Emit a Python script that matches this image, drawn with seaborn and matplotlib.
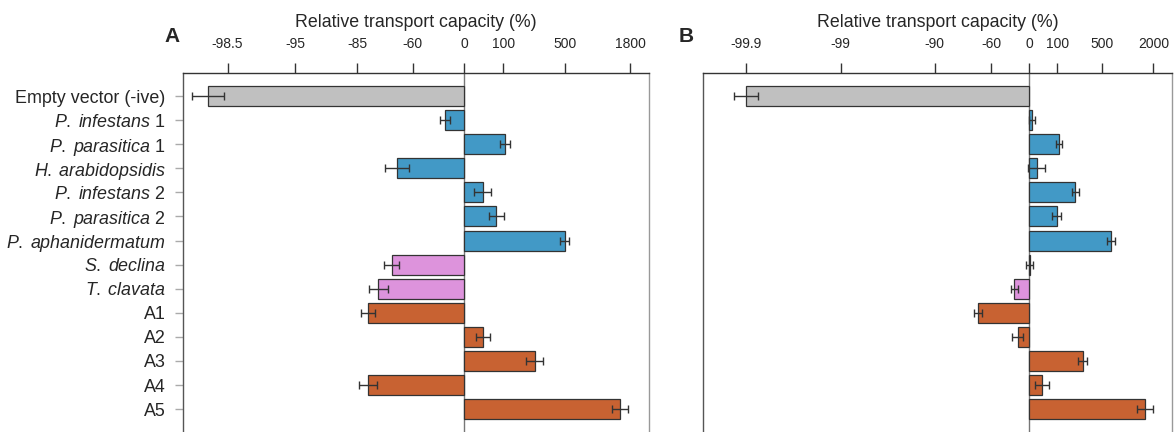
import numpy as np
import pandas as pd
import matplotlib
matplotlib.use("Agg")
import matplotlib.pyplot as plt
import seaborn as sns

# row labels (italic species names via mathtext)
labels = [
    "Empty vector (-ive)",
    r"$\mathit{P.\;infestans}$ 1",
    r"$\mathit{P.\;parasitica}$ 1",
    r"$\mathit{H.\;arabidopsidis}$",
    r"$\mathit{P.\;infestans}$ 2",
    r"$\mathit{P.\;parasitica}$ 2",
    r"$\mathit{P.\;aphanidermatum}$",
    r"$\mathit{S.\;declina}$",
    r"$\mathit{T.\;clavata}$",
    "A1", "A2", "A3", "A4", "A5",
]
groups = ["control"] + ["oomycete"] * 6 + ["other"] * 2 + ["A"] * 5

# log2 fold change relative to wild type (plotted scale), with error
log2_a = [-6.56, -0.49, 1.05, -1.72, 0.47, 0.82, 2.57, -1.86, -2.20, -2.47, 0.47, 1.80, -2.47, 3.98]
err_a = [0.41, 0.13, 0.13, 0.31, 0.21, 0.19, 0.12, 0.20, 0.25, 0.18, 0.18, 0.21, 0.23, 0.21]
log2_b = [-9.98, 0.12, 1.07, 0.27, 1.64, 0.98, 2.91, 0.03, -0.52, -1.80, -0.40, 1.90, 0.46, 4.10]
err_b = [0.43, 0.10, 0.10, 0.29, 0.12, 0.15, 0.14, 0.12, 0.12, 0.14, 0.19, 0.16, 0.25, 0.28]

# tick labels in percent
ticks_a = ["-98.5", "-95", "-85", "-60", "0", "100", "500", "1800"]
ticks_b = ["-99.9", "-99", "-90", "-60", "0", "100", "500", "2000"]

palette = {"control": "#c0c0c0", "oomycete": "#4299c6", "other": "#dd93dc", "A": "#c86232"}

sns.set_style("white")
plt.rcParams["font.family"] = ["Liberation Sans", "DejaVu Sans"]
plt.rcParams["mathtext.fontset"] = "custom"
plt.rcParams["mathtext.rm"] = "Liberation Sans"
plt.rcParams["mathtext.it"] = "Liberation Sans:italic"

df = pd.DataFrame({"label": labels, "group": groups,
                   "A": log2_a, "B": log2_b, "errA": err_a, "errB": err_b})

fig = plt.figure(figsize=(11.75, 4.32), dpi=100)
ax_a = fig.add_axes([183 / 1175, 0, 466 / 1175, 359 / 432])
ax_b = fig.add_axes([703 / 1175, 0, 469 / 1175, 359 / 432])


def draw(ax, col, ecol, ticks, xlim):
    sns.barplot(data=df, x=col, y="label", hue="group", palette=palette,
                dodge=False, width=0.83, edgecolor="#333333", linewidth=0.9,
                saturation=1, legend=False, orient="h", ax=ax)
    ax.errorbar(df[col], np.arange(len(df)), xerr=df[ecol], fmt="none",
                ecolor="#333333", elinewidth=1, capsize=2.6, capthick=1)
    ax.axvline(0, color="#777777", lw=1, zorder=0)
    pos = np.log2(1 + np.array([float(t) for t in ticks]) / 100)
    ax.set_xticks(pos)
    ax.set_xticklabels(ticks)
    ax.set_xlim(*xlim)
    ax.set_ylim(13.95, -0.955)
    ax.xaxis.tick_top()
    ax.xaxis.set_label_position("top")
    ax.set_xlabel("Relative transport capacity (%)", fontsize=12.8, labelpad=7)
    ax.tick_params(axis="x", direction="out", length=7, width=1, color="#333333",
                   labelsize=10, pad=9, top=True, bottom=False)
    ax.spines["top"].set_color("#333333")
    ax.spines["left"].set_color("#555555")
    ax.spines["right"].set_color("#999999")
    ax.spines["bottom"].set_visible(False)
    for s in ["top", "left", "right"]:
        ax.spines[s].set_linewidth(1)


draw(ax_a, "A", "errA", ticks_a, (-7.2, 4.73))
ax_a.set_ylabel("")
ax_a.tick_params(axis="y", direction="out", length=6, width=1, color="#aaaaaa",
                 labelsize=12.9, pad=6.5, left=True)

draw(ax_b, "B", "errB", ticks_b, (-11.5, 5.05))
ax_b.set_ylabel("")
ax_b.set_yticks([])

fig.text(171.7 / 1175, 1 - 37 / 432, "A", fontsize=15, fontweight="bold", ha="center", va="center")
fig.text(686 / 1175, 1 - 37 / 432, "B", fontsize=15, fontweight="bold", ha="center", va="center")

fig.savefig("out.png", dpi=100)
